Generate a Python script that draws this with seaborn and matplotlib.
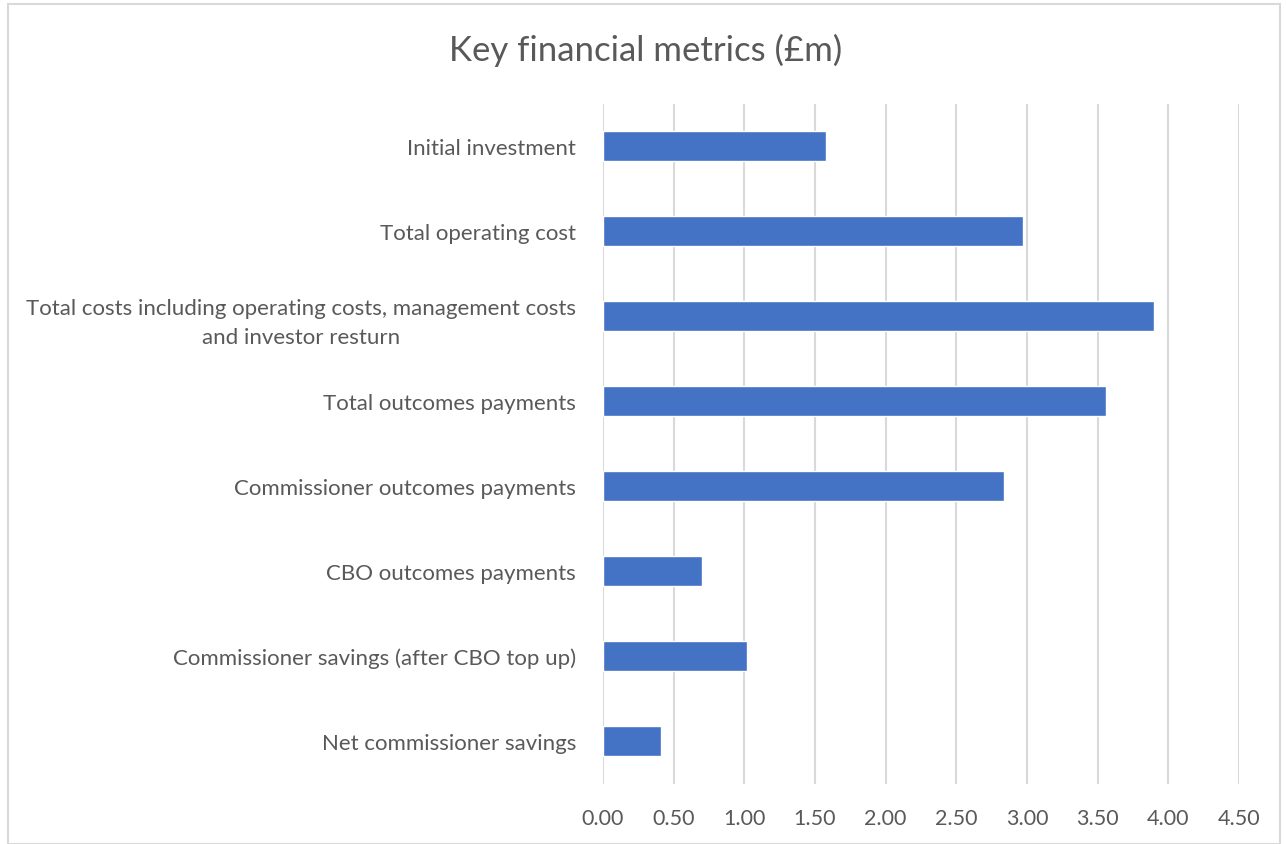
import matplotlib
matplotlib.use("Agg")
import matplotlib.pyplot as plt
import seaborn as sns
import pandas as pd
from matplotlib.patches import Rectangle

categories = [
    "Initial investment",
    "Total operating cost",
    "Total costs including operating costs, management costs\nand investor resturn",
    "Total outcomes payments",
    "Commissioner outcomes payments",
    "CBO outcomes payments",
    "Commissioner savings (after CBO top up)",
    "Net commissioner savings",
]
values = [1.58, 2.97, 3.90, 3.56, 2.84, 0.70, 1.02, 0.41]
x_ticks = [0.0, 0.5, 1.0, 1.5, 2.0, 2.5, 3.0, 3.5, 4.0, 4.5]
title = "Key financial metrics (£m)"

df = pd.DataFrame({"metric": categories, "value": values})

sns.set_theme(style="white")
plt.rcParams["font.family"] = ["Lato", "DejaVu Sans"]

W, H = 1287, 845
fig = plt.figure(figsize=(W / 100, H / 100), dpi=100)
ax = fig.add_axes([603 / W, 1 - 784.5 / H, (1239 - 603) / W, (784.5 - 104.5) / H])

sns.barplot(data=df, y="metric", x="value", orient="h", color="#4472C4",
            width=0.36, saturation=1, ax=ax, zorder=3)

ax.set_xlim(0, 4.5)
ax.set_ylim(7.5, -0.5)
ax.set_xticks(x_ticks)
ax.set_xticklabels([f"{t:.2f}" for t in x_ticks])
ax.grid(axis="x", color="#d9d9d9", linewidth=1.5, zorder=0)
ax.set_axisbelow(True)
for s in ax.spines.values():
    s.set_visible(False)
ax.set_xlabel("")
ax.set_ylabel("")
ax.tick_params(axis="x", length=0, pad=18, labelsize=15.5, labelcolor="#595959")
ax.tick_params(axis="y", length=0, pad=19.5, labelsize=16, labelcolor="#595959")
for lbl in ax.get_yticklabels():
    lbl.set_multialignment("center")
    lbl.set_linespacing(1.55)

fig.text(0.502, 1 - 50 / H, title, ha="center", va="center", fontsize=25, color="#595959")

fig.patches.append(Rectangle((8 / W, 0), (1280 - 8) / W, 1 - 5 / H, transform=fig.transFigure,
                             fill=False, edgecolor="#d9d9d9", linewidth=1.5))

fig.savefig("out.png", dpi=100, facecolor="white")
